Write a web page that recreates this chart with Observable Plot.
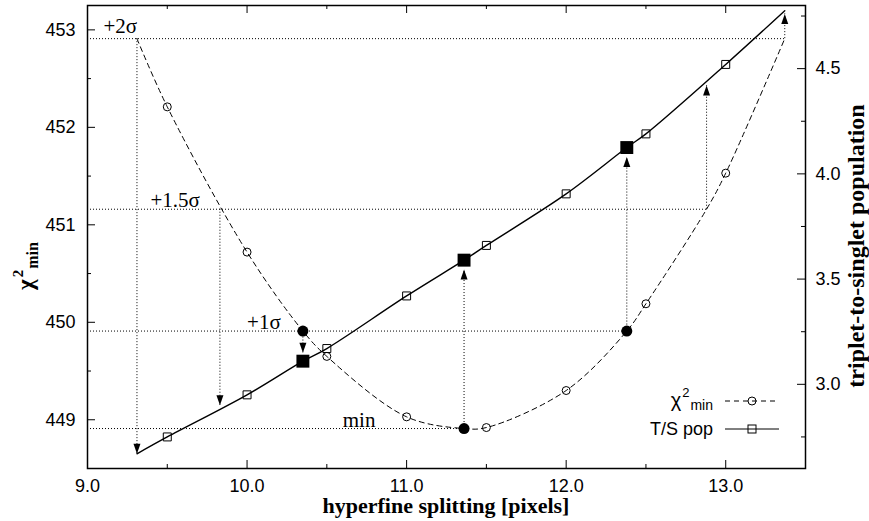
<!DOCTYPE html>
<html><head><meta charset="utf-8">
<script src="https://cdn.jsdelivr.net/npm/d3@7"></script>
<script src="https://cdn.jsdelivr.net/npm/@observablehq/plot@0.6"></script>
<style>body{margin:0;background:#fff;} svg{display:block;}</style>
</head><body><div id="chart"></div>
<script>
// ---- data ----
// chi^2_min measurements (open circles)
const chiX = [9.5, 10.0, 10.5, 11.0, 11.5, 12.0, 12.5, 13.0];
const chiY = [452.21, 450.72, 449.65, 449.03, 448.92, 449.30, 450.19, 451.53];
// chi^2 fitted curve (dashed)
const chiFitX = [9.31, 9.5, 10.0, 10.35, 10.5, 11.0, 11.36, 11.5, 12.0, 12.38, 12.5, 12.88, 13.0, 13.37];
const chiFitY = [452.91, 452.21, 450.72, 449.91, 449.65, 449.03, 448.91, 448.92, 449.30, 449.91, 450.19, 451.16, 451.53, 452.91];
// triplet-to-singlet population (open squares), right axis
const tsX = [9.5, 10.0, 10.5, 11.0, 11.5, 12.0, 12.5, 13.0];
const tsY = [2.75, 2.95, 3.17, 3.42, 3.66, 3.905, 4.19, 4.52];
// T/S fitted curve (solid)
const tsFitX = [9.31, 9.5, 10.0, 10.35, 10.5, 11.0, 11.36, 11.5, 12.0, 12.38, 12.5, 13.0, 13.37];
const tsFitY = [2.67, 2.75, 2.95, 3.11, 3.17, 3.42, 3.59, 3.66, 3.905, 4.125, 4.19, 4.52, 4.775];
// highlighted solutions (filled markers)
const markX = [10.35, 11.36, 12.38];
const markChi = [449.91, 448.91, 449.91];
const markTS = [3.11, 3.59, 4.125];
// confidence levels
const levelNames = ["min", "+1\u03c3", "+1.5\u03c3", "+2\u03c3"];
const levelChi = [448.91, 449.91, 451.16, 452.91];
const levelEndX = [11.36, 12.38, 12.88, 13.37];
const levelLabelX = [10.60, 10.0, 9.395, 9.10];
const levelLabelY = [448.93, 449.93, 451.18, 452.97];
// arrows from chi^2 level crossings to T/S curve
const arrowX = [9.31, 9.83, 10.35, 11.36, 12.38, 12.88, 13.37];
const arrowFromChi = [452.91, 451.16, 449.91, 448.91, 449.91, 451.16, 452.91];
const arrowToTS = [2.67, 2.90, 3.15, 3.545, 4.08, 4.42, 4.76];
// axes
const xDomain = [9.0, 13.5];
const yDomain = [448.5, 453.25];
const rDomain = [2.6, 4.8];
const xMajor = [9.0, 10.0, 11.0, 12.0, 13.0];
const xMinor = [9.5, 10.5, 11.5, 12.5];
const yMajor = [449, 450, 451, 452, 453];
const yMinor = [449.5, 450.5, 451.5, 452.5];
const rMajor = [3.0, 3.5, 4.0, 4.5];
const rMinor = [2.75, 3.25, 3.75, 4.25, 4.75];

// ---- layout ----
const W = 869, H = 521;
const mL = 87, mR = 64, mT = 5, mB = 53;
const innerW = W - mL - mR, innerH = H - mT - mB;

const kR = (yDomain[1] - yDomain[0]) / (rDomain[1] - rDomain[0]);
const toLeft = v => yDomain[0] + (v - rDomain[0]) * kR;
const fromLeft = y => rDomain[0] + (y - yDomain[0]) / kR;

const chiPts = chiX.map((x, i) => ({x, y: chiY[i]}));
const chiFit = chiFitX.map((x, i) => ({x, y: chiFitY[i]}));
const tsPts = tsX.map((x, i) => ({x, y: toLeft(tsY[i])}));
const tsFit = tsFitX.map((x, i) => ({x, y: toLeft(tsFitY[i])}));
const marks = markX.map((x, i) => ({x, chi: markChi[i], ts: toLeft(markTS[i])}));
const levels = levelNames.map((name, i) => ({name, y: levelChi[i], x2: levelEndX[i], lx: levelLabelX[i], ly: levelLabelY[i]}));
const arrows = arrowX.map((x, i) => ({x, from: arrowFromChi[i], to: toLeft(arrowToTS[i])}));
const arrowsDown = arrows.filter(a => a.to < a.from);
const arrowsUp = arrows.filter(a => a.to > a.from);

const headDown = {draw(ctx) { ctx.moveTo(0, 0); ctx.lineTo(-3.5, -10); ctx.lineTo(3.5, -10); ctx.closePath(); }};
const headUp = {draw(ctx) { ctx.moveTo(0, 0); ctx.lineTo(-3.5, 10); ctx.lineTo(3.5, 10); ctx.closePath(); }};

const dotted = {stroke: "#000", strokeWidth: 1, strokeDasharray: "1,2"};

const plot = Plot.plot({
  width: W, height: H,
  marginLeft: mL, marginRight: mR, marginTop: mT, marginBottom: mB,
  style: {fontFamily: "'Liberation Sans', Arial, sans-serif", fontSize: "18px", color: "#000", background: "#fff"},
  x: {domain: xDomain},
  y: {domain: yDomain},
  marks: [
    // ticks (inward)
    Plot.ruleY(yMajor, {y: d => d, insetRight: innerW - 8, strokeWidth: 1}),
    Plot.ruleY(yMinor, {y: d => d, insetRight: innerW - 4, strokeWidth: 1}),
    Plot.ruleY(rMajor.map(toLeft), {y: d => d, insetLeft: innerW - 8, strokeWidth: 1}),
    Plot.ruleY(rMinor.map(toLeft), {y: d => d, insetLeft: innerW - 4, strokeWidth: 1}),
    Plot.ruleX(xMajor, {x: d => d, insetTop: innerH - 8, strokeWidth: 1}),
    Plot.ruleX(xMinor, {x: d => d, insetTop: innerH - 4, strokeWidth: 1}),
    Plot.ruleX(xMajor, {x: d => d, insetBottom: innerH - 8, strokeWidth: 1}),
    Plot.ruleX(xMinor, {x: d => d, insetBottom: innerH - 4, strokeWidth: 1}),
    // axes labels
    Plot.axisY(yMajor, {anchor: "left", tickSize: 0, tickPadding: 12, tickFormat: d => String(d), label: null}),
    Plot.axisY(rMajor.map(toLeft), {anchor: "right", tickSize: 0, tickPadding: 10, tickFormat: d => fromLeft(d).toFixed(1), label: null}),
    Plot.axisX(xMajor, {anchor: "bottom", tickSize: 0, tickPadding: 11, tickFormat: d => d.toFixed(1), label: null}),
    // confidence-level dotted lines
    Plot.ruleY(levels, {y: "y", x1: () => xDomain[0], x2: "x2", ...dotted}),
    Plot.ruleX(arrows, {x: "x", y1: "from", y2: "to", ...dotted}),
    Plot.dot(arrowsDown, {x: "x", y: "to", symbol: headDown, fill: "#000", stroke: null}),
    Plot.dot(arrowsUp, {x: "x", y: "to", symbol: headUp, fill: "#000", stroke: null}),
    // curves
    Plot.line(chiFit, {x: "x", y: "y", curve: "catmull-rom", stroke: "#000", strokeWidth: 1, strokeDasharray: "5,4"}),
    Plot.line(tsFit, {x: "x", y: "y", curve: "catmull-rom", stroke: "#000", strokeWidth: 1.4}),
    // measurements
    Plot.dot(chiPts, {x: "x", y: "y", r: 4, symbol: "circle", stroke: "#000", strokeWidth: 1, fill: "none"}),
    Plot.dot(tsPts, {x: "x", y: "y", r: 4.5, symbol: "square", stroke: "#000", strokeWidth: 1, fill: "none"}),
    Plot.dot(marks, {x: "x", y: "chi", r: 5.5, symbol: "circle", fill: "#000", stroke: null}),
    Plot.dot(marks, {x: "x", y: "ts", r: 7.3, symbol: "square", fill: "#000", stroke: null}),
    // level labels
    Plot.text(levels, {x: "lx", y: "ly", text: "name", textAnchor: "start", lineAnchor: "bottom", fontFamily: "'Liberation Serif', 'Times New Roman', serif", fontSize: 21, fill: "#000"}),
    Plot.frame({stroke: "#000", strokeWidth: 1.5})
  ]
});

document.getElementById("chart").appendChild(plot);
const svg = d3.select(plot);

// axis titles
svg.append("text").attr("x", 446).attr("y", 513).attr("text-anchor", "middle")
  .attr("font-family", "'Liberation Serif', serif").attr("font-weight", "bold").attr("font-size", 22)
  .attr("fill", "#000").text("hyperfine splitting [pixels]");
svg.append("text").attr("transform", "translate(864,246) rotate(-90)").attr("text-anchor", "middle")
  .attr("font-family", "'Liberation Serif', serif").attr("font-weight", "bold").attr("font-size", 24)
  .attr("fill", "#000").text("triplet-to-singlet population");
const yl = svg.append("text").attr("transform", "translate(33,266) rotate(-90)")
  .attr("font-family", "'Liberation Serif', serif").attr("font-weight", "bold").attr("fill", "#000");
yl.append("tspan").attr("font-size", 23).text("\u03c7");
yl.append("tspan").attr("font-size", 15).attr("dy", -10).attr("dx", 2).text("2");
yl.append("tspan").attr("font-size", 16).attr("dy", 15).attr("dx", 1).text("min");

// legend
const lg = svg.append("g").attr("font-family", "'Liberation Sans', Arial, sans-serif").attr("fill", "#000");
const t1 = lg.append("text").attr("x", 713).attr("y", 407).attr("text-anchor", "end");
t1.append("tspan").attr("font-size", 20).text("\u03c7");
t1.append("tspan").attr("font-size", 13).attr("dy", -10).attr("dx", 1).text("2");
t1.append("tspan").attr("font-size", 14).attr("dy", 13).attr("dx", 1).text("min");
lg.append("text").attr("x", 713).attr("y", 435).attr("text-anchor", "end").attr("font-size", 18).text("T/S pop");
lg.append("line").attr("x1", 725).attr("x2", 779).attr("y1", 401).attr("y2", 401)
  .attr("stroke", "#000").attr("stroke-dasharray", "5,4");
lg.append("circle").attr("cx", 752).attr("cy", 401).attr("r", 4).attr("fill", "none").attr("stroke", "#000");
lg.append("line").attr("x1", 725).attr("x2", 779).attr("y1", 429).attr("y2", 429).attr("stroke", "#000");
lg.append("rect").attr("x", 748).attr("y", 425).attr("width", 8).attr("height", 8).attr("fill", "none").attr("stroke", "#000");
</script>
</body></html>
